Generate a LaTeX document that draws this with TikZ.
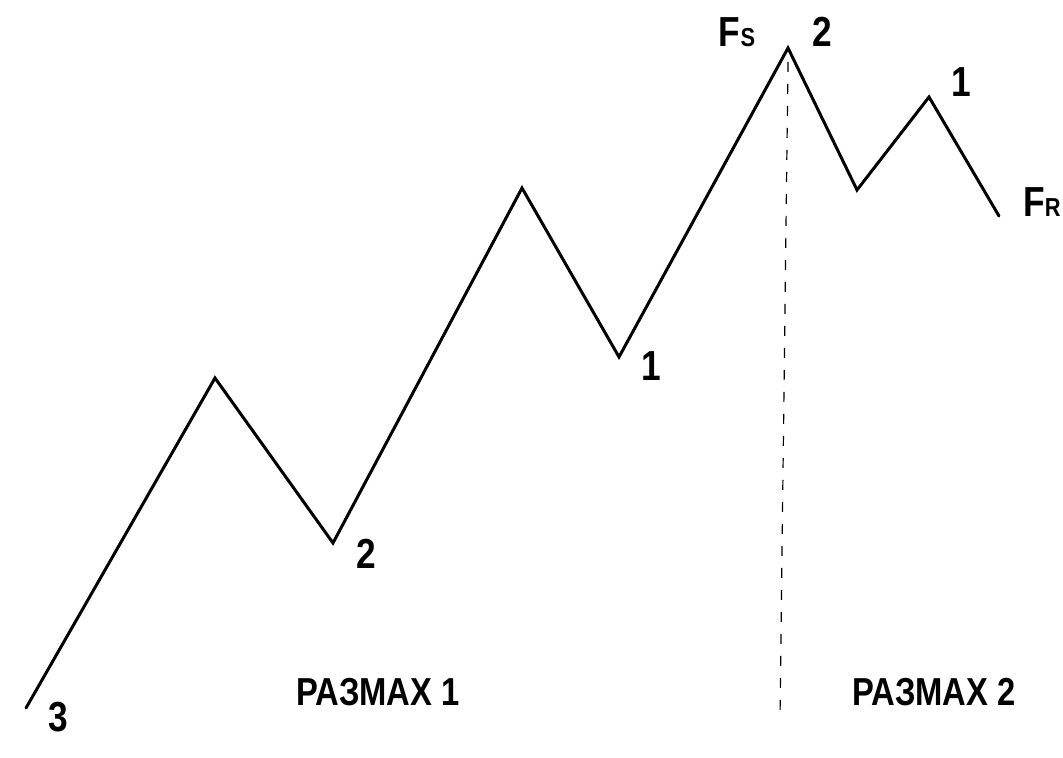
\documentclass[tikz,border=0pt]{standalone}
\usepackage{fontspec}
\newfontfamily\labfont[FakeStretch=0.84]{Liberation Sans Bold}
\begin{document}
\begin{tikzpicture}[x=0.5pt, y=-0.5pt, every node/.style={inner sep=0pt},
    wave/.style={line width=1.5pt, line join=miter, line cap=round},
    ptlabel/.style={font=\labfont\fontsize{21}{21}\selectfont},
    spanlabel/.style={font=\labfont\fontsize{19.5}{19.5}\selectfont}]
    % Canvas: pixel grid of the original scan, origin top left
    \useasboundingbox (0,0) rectangle (1063,758);

    % Turning points of the wave
    \coordinate (start) at (26,708);
    \coordinate (peakA) at (215,378);
    \coordinate (lowA)  at (333,543);
    \coordinate (peakB) at (522,188);
    \coordinate (lowB)  at (619,357);
    \coordinate (top)   at (788,48);
    \coordinate (lowC)  at (857,190);
    \coordinate (peakC) at (929,97);
    \coordinate (stop)  at (999,216);

    \draw[wave] (start) -- (peakA) -- (lowA) -- (peakB) -- (lowB)
                -- (top) -- (lowC) -- (peakC) -- (stop);

    % Divider between the two swings
    \coordinate (divTop) at (788,62);
    \coordinate (divBot) at (780,717);
    \draw[line width=0.6pt, dash pattern=on 5pt off 6pt] (divTop) -- (divBot);

    % Point labels
    \node[ptlabel] (l3)  at (58,717)  {3};
    \node[ptlabel] (l2a) at (366,554) {2};
    \node[ptlabel] (l1a) at (651,366) {1};
    \node[ptlabel] (l2b) at (822,32)  {2};
    \node[ptlabel] (l1b) at (961,82)  {1};
    \node[ptlabel] (fs)  at (737,32)  {F{\fontsize{13}{13}\selectfont S}};
    \node[ptlabel, anchor=west] (fr) at (1023,202) {F{\fontsize{13}{13}\selectfont R}};

    % Swing names
    \node[spanlabel] (span1) at (378,692) {РАЗМАХ 1};
    \node[spanlabel] (span2) at (934,692) {РАЗМАХ 2};
\end{tikzpicture}
\end{document}
